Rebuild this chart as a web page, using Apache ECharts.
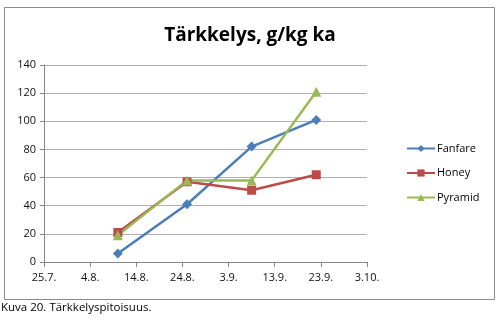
<!DOCTYPE html>
<html>
<head>
<meta charset="utf-8">
<script src="https://cdn.jsdelivr.net/npm/echarts@6/dist/echarts.min.js"></script>
<style>
  html, body { margin: 0; padding: 0; background: #fff; }
  #chart { width: 500px; height: 320px; }
</style>
</head>
<body>
<div id="chart"></div>
<script>
// päivämäärät (x-akseli alkaa 25.7.)
const startDate = '2011-07-25';
const tickLabels = ['25.7.', '4.8.', '14.8.', '24.8.', '3.9.', '13.9.', '23.9.', '3.10.'];
const sampleDates = ['2011-08-10', '2011-08-25', '2011-09-08', '2011-09-22'];
const fanfare = [6, 41, 82, 101];
const honey = [21, 57, 51, 62];
const pyramid = [19, 58, 58, 121];

function dayOffset(d) {
  return Math.round((new Date(d) - new Date(startDate)) / 86400000);
}
function pairs(vals) {
  return vals.map((v, i) => [dayOffset(sampleDates[i]), v]);
}

const chart = echarts.init(document.getElementById('chart'));
const font = '"Open Sans", "Noto Sans", sans-serif';
const option = {
  animation: false,
  title: {
    text: 'Tärkkelys, g/kg ka',
    left: 245, top: 21, textAlign: 'center',
    textStyle: { fontFamily: font, fontSize: 19, fontWeight: 'bold', color: '#000' }
  },
  grid: { left: 44, right: 133, top: 65, bottom: 58 },
  legend: {
    orient: 'vertical', left: 401, top: 138, itemWidth: 28, itemHeight: 9, itemGap: 13.5,
    textStyle: { fontFamily: font, fontSize: 11, color: '#000', padding: [0, 0, 0, -3] },
    data: ['Fanfare', 'Honey', 'Pyramid']
  },
  xAxis: {
    type: 'value', min: 0, max: 70, interval: 10,
    axisLine: { show: true, lineStyle: { color: '#868686' } },
    axisTick: { show: true, length: 5, inside: false, lineStyle: { color: '#868686' } },
    splitLine: { show: false },
    axisLabel: {
      fontFamily: font, fontSize: 11, color: '#111', margin: 10,
      formatter: v => tickLabels[Math.round(v / 10)]
    }
  },
  yAxis: {
    type: 'value', min: 0, max: 140, interval: 20,
    axisLine: { show: true, lineStyle: { color: '#868686' } },
    axisTick: { show: true, length: 4, lineStyle: { color: '#868686' } },
    splitLine: { lineStyle: { color: '#b0b0b0' } },
    axisLabel: { fontFamily: font, fontSize: 11, color: '#111', margin: 8 }
  },
  series: [
    {
      name: 'Fanfare', type: 'line', data: pairs(fanfare),
      symbol: 'diamond', symbolSize: 10,
      itemStyle: { color: '#4a7ebb' }, lineStyle: { width: 2.5, color: '#4a7ebb' }
    },
    {
      name: 'Honey', type: 'line', data: pairs(honey),
      symbol: 'rect', symbolSize: 9,
      itemStyle: { color: '#be4b48' }, lineStyle: { width: 2.5, color: '#be4b48' }
    },
    {
      name: 'Pyramid', type: 'line', data: pairs(pyramid),
      symbol: 'triangle', symbolSize: 10,
      itemStyle: { color: '#98b954' }, lineStyle: { width: 2.5, color: '#98b954' }
    }
  ],
  graphic: [
    {
      type: 'rect', left: 2, top: 5, z: -1,
      shape: { width: 490, height: 292 },
      style: { fill: 'none', stroke: '#8c8c8c', lineWidth: 1 }
    },
    {
      type: 'text', left: 1, top: 302,
      style: { text: 'Kuva 20. Tärkkelyspitoisuus.', fontFamily: font, fontSize: 11.5, fill: '#000' }
    }
  ]
};
chart.setOption(option);
</script>
</body>
</html>
